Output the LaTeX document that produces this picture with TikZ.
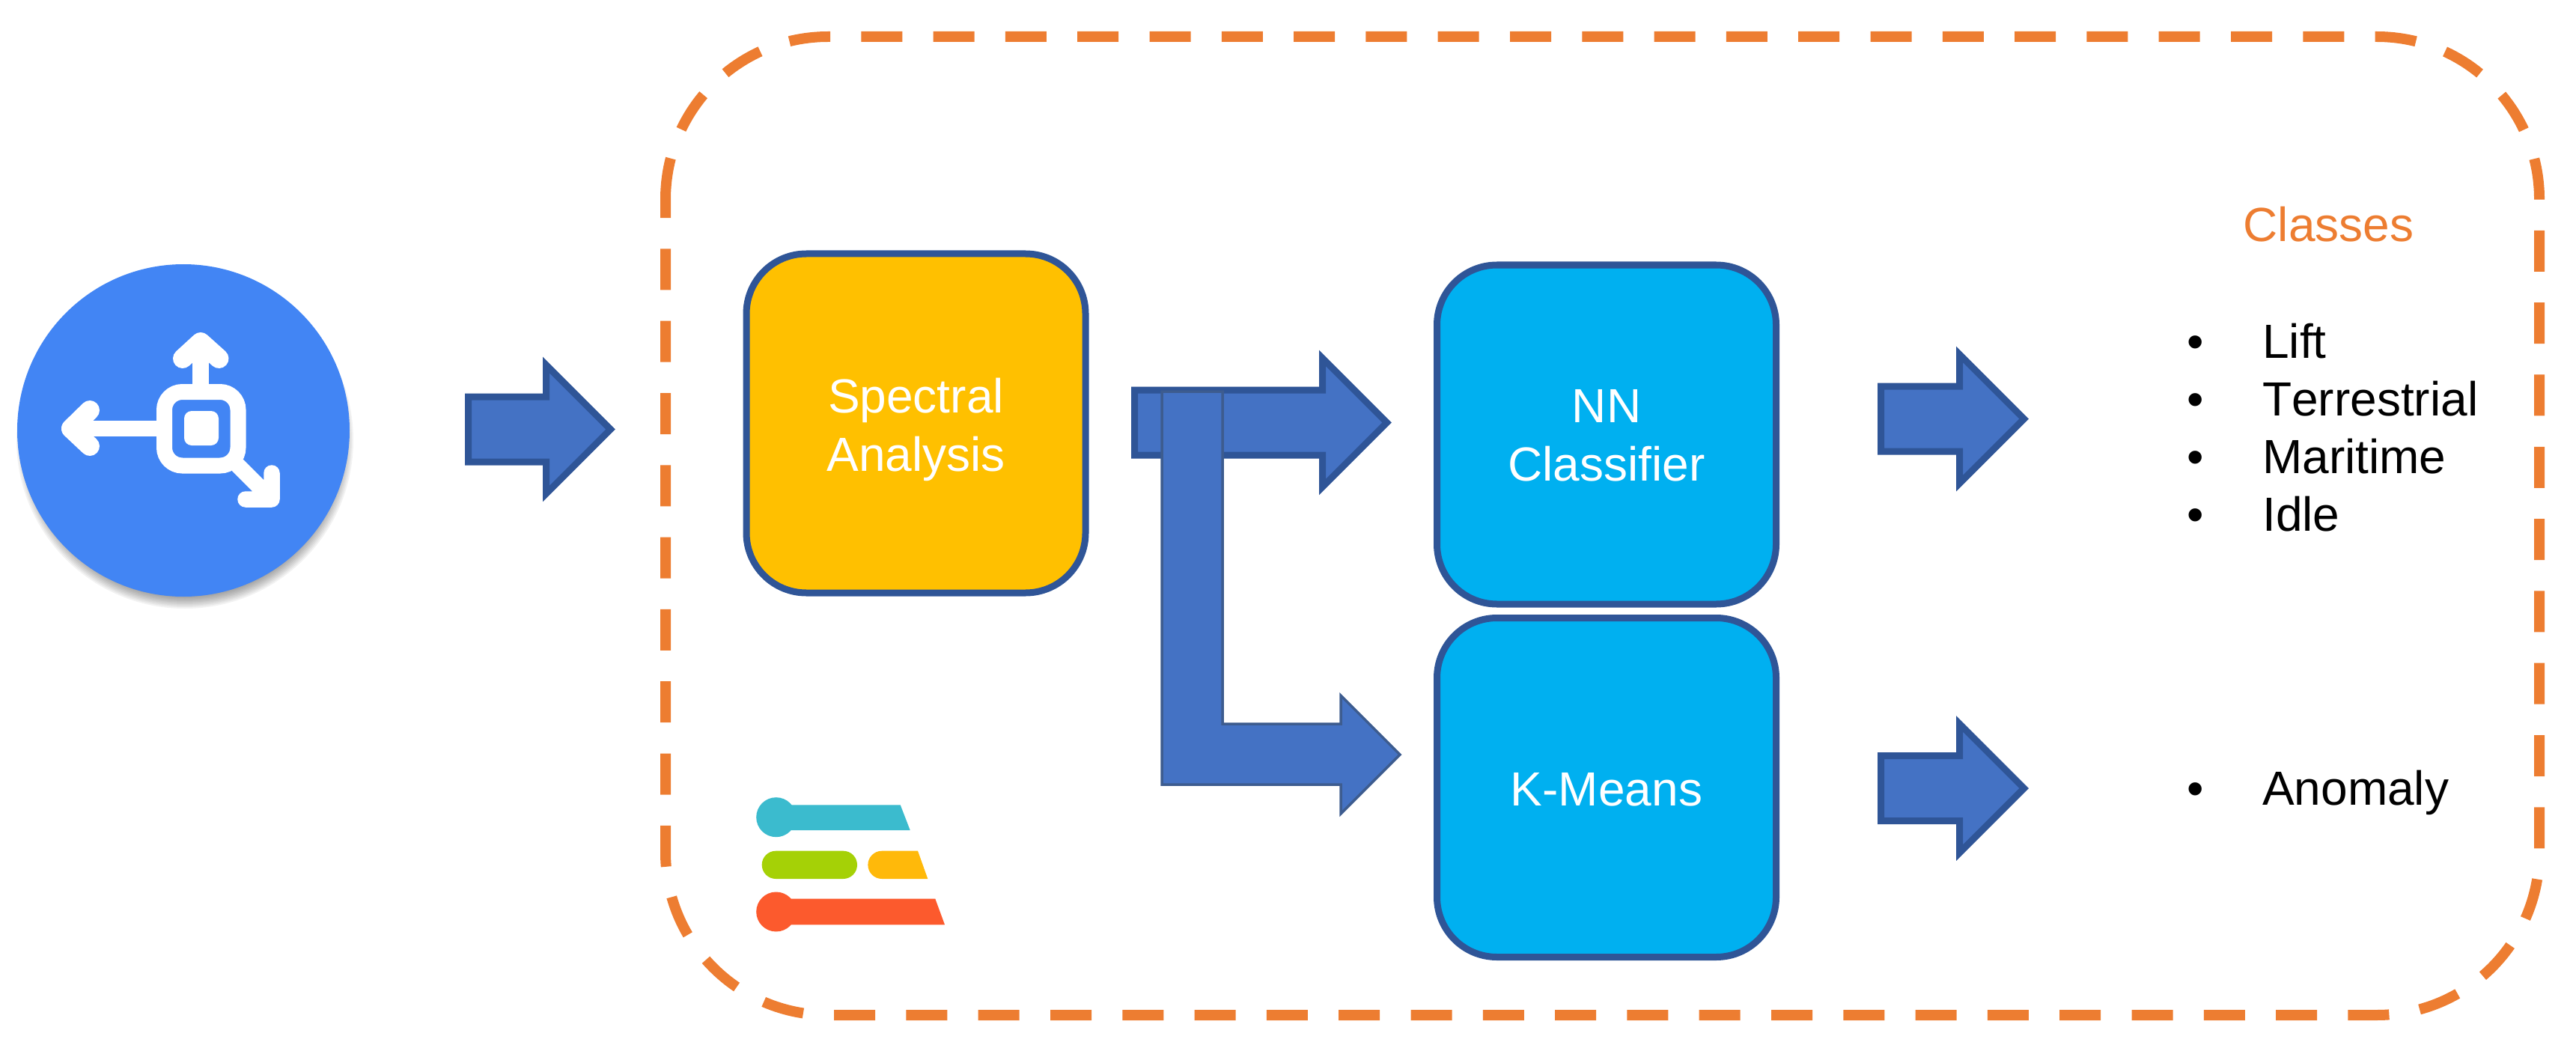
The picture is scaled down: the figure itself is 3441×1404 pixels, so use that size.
\documentclass[tikz,border=0pt]{standalone}
\usepackage{fontspec}
\setmainfont[Kerning=Off]{Liberation Sans}
\definecolor{arrowfill}{HTML}{4472C4}
\definecolor{arrowline}{HTML}{2F5597}
\definecolor{thinline}{HTML}{3D5C8F}
\definecolor{boxorange}{HTML}{ED7D31}
\definecolor{specfill}{HTML}{FFC000}
\definecolor{nnfill}{HTML}{00B0F0}
\definecolor{iconblue}{HTML}{4285F4}
\definecolor{logoteal}{HTML}{3BBBCE}
\definecolor{logogreen}{HTML}{A5D106}
\definecolor{logoyellow}{HTML}{FFB90A}
\definecolor{logored}{HTML}{FC5A2D}
\newcommand{\blockarrow}[3]{% left outer x, centre y, outer body length
  \draw[blockstyle] (#1+4.5,#2-43.5) -- (#1+#3+4.5,#2-43.5) -- (#1+#3+4.5,#2-86.1) -- (#1+#3+90.6,#2)
    -- (#1+#3+4.5,#2+86.1) -- (#1+#3+4.5,#2+43.5) -- (#1+4.5,#2+43.5) -- cycle;}
\tikzset{
  blockstyle/.style={fill=arrowfill,draw=arrowline,line width=9pt,miter limit=10},
  procbox/.style={draw=arrowline,line width=9pt,rounded corners=80pt,minimum width=453pt,minimum height=453pt,
    text=white,align=center,font=\fontsize{64}{78}\selectfont,inner sep=0pt},
  listitem/.style={anchor=base west,inner sep=0pt,font=\fontsize{64}{77}\selectfont,text=black},
  iconline/.style={draw=white,line width=21.5pt,line cap=round,line join=round},
  iconhead/.style={draw=white,line width=26pt,line cap=round,line join=round},
}
\begin{document}
\begin{tikzpicture}[x=1pt,y=-1pt]
\useasboundingbox (0,0) rectangle (3441,1404);
% icon shadow
\foreach \d in {0,2,...,16}{\fill[black,opacity=0.05] (247,588) circle[radius=225-\d];}
\fill[iconblue] (245,575) circle[radius=222];
% icon
\draw[draw=white,line width=21pt,rounded corners=24pt] (219.5,523.5) rectangle (318,622);
\fill[white,rounded corners=10pt] (246,549) rectangle (292,595);
\draw[iconline] (268,513) -- (268,460);
\draw[iconhead] (244,479) -- (268,457) -- (292.5,479);
\draw[iconline] (210,572.5) -- (100,572.5);
\draw[iconhead] (120,548) -- (95,572.5) -- (120,596);
\draw[iconline] (318,622) -- (363,667) (363,632) -- (363,667) -- (328,667);
% dashed frame: starts on the left side, where the top-left arc begins
\draw[boxorange,line width=14pt,dash pattern=on 55pt off 41.3pt,rounded corners=217pt]
  (889,266) -- (889,49) -- (3392,49) -- (3392,1356) -- (889,1356) -- (889,266);
% boxes
\node[procbox,fill=specfill] (spec) at (1223.5,565.5) {\rule{0pt}{64pt}Spectral\\Analysis};
\node[procbox,fill=nnfill] (nn) at (2146,580.5) {\rule{0pt}{46pt}NN\\Classifier};
\node[procbox,fill=nnfill] (km) at (2146,1052) {\rule{0pt}{50pt}K-Means};
% block arrows
\blockarrow{621}{573.5}{104}
\blockarrow{1511}{564.5}{251}
\draw[fill=arrowfill,draw=thinline,line width=3.5pt,miter limit=10]
  (1552,523) -- (1633,523) -- (1633,967) -- (1791,967) -- (1791,929) -- (1870,1008)
  -- (1791,1087) -- (1791,1048) -- (1552,1048) -- cycle;
\blockarrow{2508}{559.5}{105}
\blockarrow{2508}{1053}{105}
% logo
\fill[logoteal] (1036.7,1091.7) circle[radius=26.5];
\fill[logoteal] (1036.7,1075.3) -- (1202.7,1075.3) -- (1215.7,1109) -- (1036.7,1109) -- cycle;
\fill[logogreen,rounded corners=18.6pt] (1017.7,1136.7) rectangle (1145,1174);
\fill[logoyellow] (1226,1136.7) -- (1239.3,1174) -- (1178,1174) arc[start angle=270,end angle=90,radius=18.65pt] -- cycle;
\fill[logored] (1036.7,1218) circle[radius=26.5];
\fill[logored] (1036.7,1200.7) -- (1249.3,1200.7) -- (1262,1235.3) -- (1036.7,1235.3) -- cycle;
% classes
\node[text=boxorange,inner sep=0pt,font=\fontsize{64}{77}\selectfont,anchor=base] (classes) at (3110.5,323) {Classes};
\node[listitem] (b1) at (2921,478) {•};
\node[listitem] (t1) at (3022,478) {Lift};
\node[listitem] (b2) at (2921,555) {•};
\node[listitem] (t2) at (3022,555) {Terrestrial};
\node[listitem] (b3) at (2921,632) {•};
\node[listitem] (t3) at (3022,632) {Maritime};
\node[listitem] (b4) at (2921,709) {•};
\node[listitem] (t4) at (3022,709) {Idle};
\node[listitem] (b5) at (2921,1075) {•};
\node[listitem] (t5) at (3022,1075) {Anomaly};
\end{tikzpicture}
\end{document}
